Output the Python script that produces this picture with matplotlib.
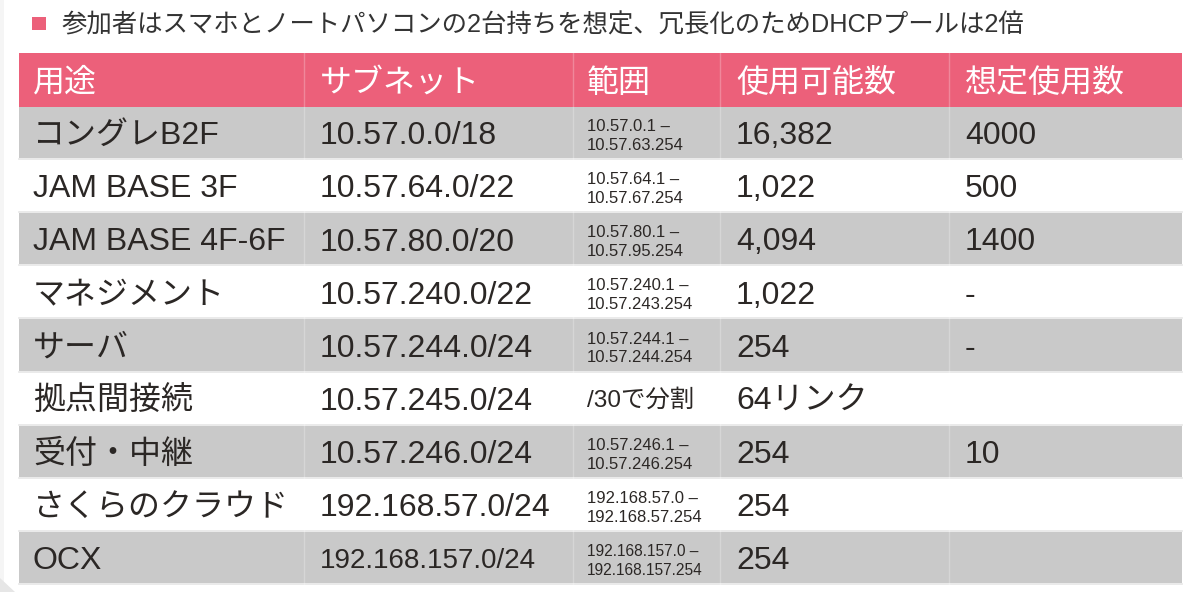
import matplotlib
matplotlib.use("Agg")
import matplotlib.pyplot as plt
from matplotlib.patches import Rectangle, Polygon

plt.rcParams['font.family'] = ['Liberation Sans', 'Noto Sans CJK JP', 'DejaVu Sans']

# ---- data ----
title = "参加者はスマホとノートパソコンの2台持ちを想定、冗長化のためDHCPプールは2倍"
headers = ["用途", "サブネット", "範囲", "使用可能数", "想定使用数"]
usage = ["コングレB2F", "JAM BASE 3F", "JAM BASE 4F-6F", "マネジメント", "サーバ",
         "拠点間接続", "受付・中継", "さくらのクラウド", "OCX"]
subnets = ["10.57.0.0/18", "10.57.64.0/22", "10.57.80.0/20", "10.57.240.0/22",
           "10.57.244.0/24", "10.57.245.0/24", "10.57.246.0/24", "192.168.57.0/24",
           "192.168.157.0/24"]
ranges = [("10.57.0.1 –", "10.57.63.254"),
          ("10.57.64.1 –", "10.57.67.254"),
          ("10.57.80.1 –", "10.57.95.254"),
          ("10.57.240.1 –", "10.57.243.254"),
          ("10.57.244.1 –", "10.57.244.254"),
          ("/30で分割",),
          ("10.57.246.1 –", "10.57.246.254"),
          ("192.168.57.0 –", "192.168.57.254"),
          ("192.168.157.0 –", "192.168.157.254")]
usable = ["16,382", "1,022", "4,094", "1,022", "254", "64リンク", "254", "254", "254"]
expected = ["4000", "500", "1400", "-", "-", "", "10", "", ""]

# ---- style / layout ----
PINK = "#EC607A"
GREY = "#C9C9C9"
TXT = "#2b2725"
col_x = [19, 304, 573, 720, 949, 1182]
pads = [14, 16, 14, 16, 16]
head_top, head_bot = 53, 107
body_bot = 585
n = len(usage)
pitch = (body_bot - head_bot) / n
subnet_fs = [23] * (n - 1) + [20]
range_fs = [12] * (n - 1) + [11.2]

fig = plt.figure(figsize=(12, 5.92), dpi=100)
ax = fig.add_axes([0, 0, 1, 1])
ax.set_xlim(0, 1200)
ax.set_ylim(592, 0)
ax.axis('off')

# faint window edge at the left / bottom-left corner
ax.add_patch(Rectangle((0, 0), 4, 592, color="#f5f5f5", lw=0))
ax.add_patch(Polygon([(0, 578), (0, 592), (15, 592)], closed=True, color="#e6e6e6", lw=0))

# title
ax.add_patch(Rectangle((32, 17), 14, 13, color=PINK, lw=0))
ax.text(62, 32.5, title, fontsize=18.3, color="#333333", va='baseline', ha='left')

# header
ax.add_patch(Rectangle((col_x[0], head_top), col_x[-1] - col_x[0], head_bot - head_top,
                       color=PINK, lw=0))
hc = (head_top + head_bot) / 2
for i, h in enumerate(headers):
    ax.text(col_x[i] + pads[i], hc + 12, h, fontsize=23, color="white",
            va='baseline', ha='left')

# body
for r in range(n):
    top = head_bot + r * pitch
    bot = top + pitch
    bg = GREY if r % 2 == 0 else "white"
    ax.add_patch(Rectangle((col_x[0], top), col_x[-1] - col_x[0], pitch - 2,
                           color=bg, lw=0))
    ax.plot([col_x[0], col_x[-1]], [bot - 1, bot - 1], color="#e6e6e6", lw=1.2)
    c = top + (pitch - 2) / 2
    ax.text(col_x[0] + pads[0], c + 11.7, usage[r], fontsize=23, color=TXT, va='baseline')
    ax.text(col_x[1] + pads[1], c + subnet_fs[r] * 0.51, subnets[r], fontsize=subnet_fs[r],
            color=TXT, va='baseline')
    rg = ranges[r]
    if len(rg) == 2:
        ax.text(col_x[2] + pads[2], c - 1.5, rg[0], fontsize=range_fs[r], color=TXT, va='baseline')
        ax.text(col_x[2] + pads[2], c + 17.5, rg[1], fontsize=range_fs[r], color=TXT, va='baseline')
    else:
        ax.text(col_x[2] + pads[2], c + 8.8, rg[0], fontsize=17.6, color=TXT, va='baseline')
    ax.text(col_x[3] + pads[3], c + 11.7, usable[r], fontsize=23, color=TXT, va='baseline')
    ax.text(col_x[4] + pads[4], c + 11.7, expected[r], fontsize=23, color=TXT, va='baseline')

# vertical separators (subtle)
for x in col_x[1:-1]:
    ax.plot([x, x], [head_top, body_bot], color="white", lw=1, alpha=0.25)

fig.savefig("out.png", dpi=100)
